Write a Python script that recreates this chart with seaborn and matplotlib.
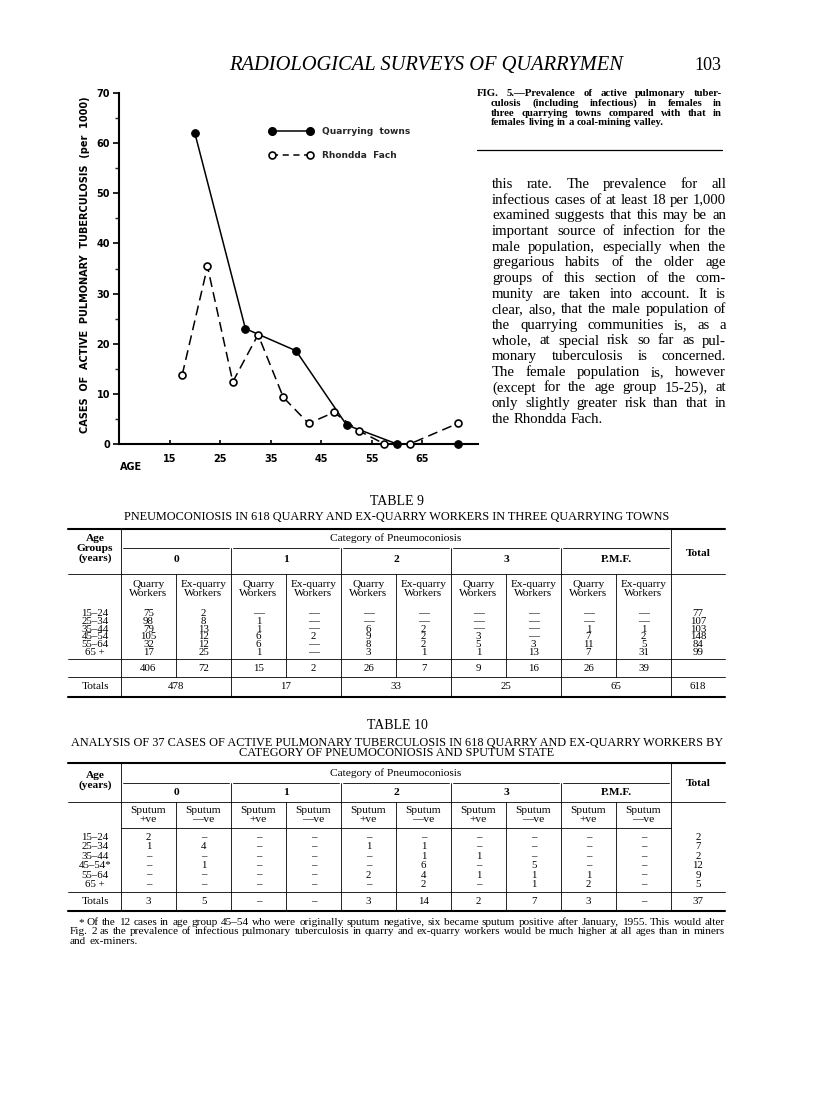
import matplotlib
matplotlib.use("Agg")
import matplotlib.pyplot as plt
import seaborn as sns
from matplotlib.lines import Line2D
from matplotlib.transforms import Affine2D

sns.set_theme(style="white")
plt.rcParams["font.family"] = ["DejaVu Sans"]
SERIF = "Liberation Serif"

# Fig. 5 data: cases of active pulmonary tuberculosis per 1000 females
quarry_age = [20, 30, 40, 50, 60, 72]
quarry_rate = [62.0, 23.0, 18.6, 3.8, 0.0, 0.0]
rhondda_age = [17.5, 22.5, 27.5, 32.5, 37.5, 42.5, 47.5, 52.5, 57.5, 62.5, 72]
rhondda_rate = [13.8, 35.4, 12.4, 21.8, 9.3, 4.1, 6.3, 2.6, 0.0, 0.0, 4.1]
x_ticks = [15, 25, 35, 45, 55, 65]
y_ticks = [0, 10, 20, 30, 40, 50, 60, 70]

# Table 9
t9_ages = ["15–24", "25–34", "35–44", "45–54", "55–64", "65 +"]
t9_rows = [
    [75, 2, None, None, None, None, None, None, None, None, 77],
    [98, 8, 1, None, None, None, None, None, None, None, 107],
    [79, 13, 1, None, 6, 2, None, None, 1, 1, 103],
    [105, 12, 6, 2, 9, 2, 3, None, 7, 2, 148],
    [32, 12, 6, None, 8, 2, 5, 3, 11, 5, 84],
    [17, 25, 1, None, 3, 1, 1, 13, 7, 31, 99],
]
t9_colsum = [406, 72, 15, 2, 26, 7, 9, 16, 26, 39]
t9_grptot = [478, 17, 33, 25, 65]
t9_total = 618

# Table 10
t10_ages = ["15–24", "25–34", "35–44", "45–54*", "55–64", "65 +"]
t10_rows = [
    [2, None, None, None, None, None, None, None, None, None, 2],
    [1, 4, None, None, 1, 1, None, None, None, None, 7],
    [None, None, None, None, None, 1, 1, None, None, None, 2],
    [None, 1, None, None, None, 6, None, 5, None, None, 12],
    [None, None, None, None, 2, 4, 1, 1, 1, None, 9],
    [None, None, None, None, None, 2, None, 1, 2, None, 5],
]
t10_totals = [3, 5, None, None, 3, 14, 2, 7, 3, None, 37]

groups = ["0", "1", "2", "3", "P.M.F."]

caption = ["FIG. 5.—Prevalence of active pulmonary tuber-",
           "culosis (including infectious) in females in",
           "three quarrying towns compared with that in",
           "females living in a coal-mining valley."]
body = ["this rate.  The prevalence for all",
        "infectious cases of at least 18 per 1,000",
        "examined suggests that this may be an",
        "important source of infection for the",
        "male population, especially when the",
        "gregarious habits of the older age",
        "groups of this section of the com-",
        "munity are taken into account.  It is",
        "clear, also, that the male population of",
        "the quarrying communities is, as a",
        "whole, at special risk so far as pul-",
        "monary tuberculosis is concerned.",
        "The female population is, however",
        "(except for the age group 15-25), at",
        "only slightly greater risk than that in",
        "the Rhondda Fach."]
footnote = ["* Of the 12 cases in age group 45–54 who were originally sputum negative, six became sputum positive after January, 1955.  This would alter",
            "Fig. 2 as the prevalence of infectious pulmonary tuberculosis in quarry and ex-quarry workers would be much higher at all ages than in miners",
            "and ex-miners."]

fig = plt.figure(figsize=(8.16, 11.01), dpi=100)
fig.patch.set_facecolor("white")
page = Affine2D().scale(1 / 816, -1 / 1101).translate(0, 1) + fig.transFigure
renderer = fig.canvas.get_renderer()


def txt(x, y, s, size=8.2, ha="center", va="baseline", family=SERIF, **kw):
    return fig.text(x, y, s, transform=page, fontsize=size, ha=ha, va=va,
                    family=family, color="black", **kw)


def hline(x0, x1, y, lw=0.6):
    fig.add_artist(Line2D([x0, x1], [y, y], transform=page, color="black", lw=lw))


def vline(x, y0, y1, lw=0.6):
    fig.add_artist(Line2D([x, x], [y0, y1], transform=page, color="black", lw=lw))


def width_of(s, size, weight):
    t = txt(0, 0, s, size=size, ha="left", weight=weight)
    w = t.get_window_extent(renderer).width
    t.remove()
    return w


def justify(lines, x0, x1, y0, dy, weight="normal", indents=None, fill=0.99):
    # pick a font size so the widest justified line just fills the measure
    indents = indents or [0] * len(lines)
    ratio = min((x1 - x0 - indents[i]) / width_of(lines[i], 10, weight)
                for i in range(len(lines) - 1))
    size = 10 * ratio * fill
    for i, line in enumerate(lines):
        left = x0 + indents[i]
        words = line.split()
        arts = [txt(left, y0 + i * dy, w, size=size, ha="left", weight=weight) for w in words]
        widths = [a.get_window_extent(renderer).width for a in arts]
        if i == len(lines) - 1:
            gap = width_of("a a", size, weight) - width_of("aa", size, weight)
        else:
            gap = (x1 - left - sum(widths)) / (len(words) - 1)
        x = left
        for a, w in zip(arts, widths):
            a.set_position((x, y0 + i * dy))
            x += w + gap


# page header
txt(426, 70, "RADIOLOGICAL SURVEYS OF QUARRYMEN", size=14.8, style="italic")
txt(721, 70, "103", size=13, ha="right")

# chart
ax = fig.add_axes([119 / 816, 1 - 444 / 1101, 359 / 816, 351 / 1101])
ax.set_facecolor("none")
sns.lineplot(x=quarry_age, y=quarry_rate, ax=ax, color="black", lw=1.1,
             marker="o", markersize=5.5, markerfacecolor="black",
             markeredgecolor="black", clip_on=False, zorder=3)
sns.lineplot(x=rhondda_age, y=rhondda_rate, ax=ax, color="black", lw=1.1,
             linestyle=(0, (6.5, 3.5)), marker="o", markersize=5,
             markerfacecolor="white", markeredgecolor="black",
             markeredgewidth=1.2, clip_on=False, zorder=4)
ax.set_xlim(5, 76)
ax.set_ylim(0, 70)
ax.set_xticks(x_ticks)
ax.set_yticks(y_ticks)
ax.set_yticks([v + 5 for v in y_ticks[:-1]], minor=True)
sns.despine(ax=ax)
for s in ["left", "bottom"]:
    ax.spines[s].set_linewidth(1.5)
    ax.spines[s].set_color("black")
ax.tick_params(axis="y", which="major", left=True, direction="out", length=4,
               width=1.2, pad=2.5, labelsize=7, colors="black")
ax.tick_params(axis="y", which="minor", left=True, direction="out", length=3, width=1)
ax.tick_params(axis="x", bottom=True, direction="in", length=3, width=1.2,
               pad=7, labelsize=7, colors="black")
for lbl in ax.get_xticklabels() + ax.get_yticklabels():
    lbl.set_fontweight("bold")
ax.grid(False)
ax.set_xlabel("")
ax.set_ylabel("")

handles = [Line2D([], [], color="black", lw=1.1, marker="o", ms=5.5, mfc="black", mec="black"),
           Line2D([], [], color="black", lw=1.1, ls=(0, (4, 3)), marker="o", ms=5,
                  mfc="white", mec="black", mew=1.2)]
ax.legend(handles, ["Quarrying  towns", "Rhondda  Fach"], loc="upper left",
          bbox_to_anchor=(0.418, 0.903), frameon=False, numpoints=2,
          handlelength=4.8, handletextpad=1.1, labelspacing=1.7, borderpad=0,
          borderaxespad=0, prop={"weight": "bold", "size": 6.5})

txt(85, 265, "CASES  OF  ACTIVE  PULMONARY  TUBERCULOSIS  (per  1000)", size=7,
    family="DejaVu Sans", weight="bold", rotation=90, va="center")
txt(120, 470, "AGE", size=7, ha="left", family="DejaVu Sans", weight="bold")

# caption and body text
justify(caption, 477, 722, 96.5, 9.6, weight="bold", indents=[0, 14, 14, 14], fill=0.9)
hline(477, 722, 150, lw=0.9)
justify(body, 492, 726, 188, 15.65)

# tables
L, R = 68, 725
edges = [121 + 55 * k for k in range(11)]
centers = [e + 27.5 for e in edges[:10]]
gcent = [edges[2 * g] + 55 for g in range(5)]
lab_x, tot_x = 95, 698
NUM = 7.8


def cell(v, dash):
    return dash if v is None else str(v)


# Table 9
txt(397, 505, "TABLE 9", size=10)
txt(397, 520, "PNEUMOCONIOSIS IN 618 QUARRY AND EX-QUARRY WORKERS IN THREE QUARRYING TOWNS", size=8.8)
hline(L, R, 529, lw=1.5)
for s, y in zip(["Age", "Groups", "(years)"], [541, 551, 561]):
    txt(lab_x, y, s, weight="bold")
txt(396, 541, "Category of Pneumoconiosis")
for g in range(5):
    hline(edges[2 * g] + 2, edges[2 * g + 2] - 2, 548)
    txt(gcent[g], 562, groups[g], weight="bold")
txt(tot_x, 556, "Total", weight="bold")
hline(L, R, 574)
for k in range(10):
    txt(centers[k], 587, "Quarry" if k % 2 == 0 else "Ex-quarry")
    txt(centers[k], 596, "Workers")
for i, row in enumerate(t9_rows):
    y = 616 + 7.8 * i
    txt(lab_x, y, t9_ages[i], size=NUM)
    for k in range(10):
        txt(centers[k], y, cell(row[k], "—"), size=NUM)
    txt(tot_x, y, str(row[10]), size=NUM)
hline(L, R, 659)
for k in range(10):
    txt(centers[k], 671, str(t9_colsum[k]), size=NUM)
hline(L, R, 677)
txt(lab_x, 689, "Totals")
for g in range(5):
    txt(gcent[g], 689, str(t9_grptot[g]), size=NUM)
txt(tot_x, 689, str(t9_total), size=NUM)
hline(L, R, 697, lw=1.5)
vline(edges[0], 529, 697)
vline(edges[10], 529, 697)
for e in edges[2:10:2]:
    vline(e, 548, 697)
for e in edges[1:10:2]:
    vline(e, 574, 677)

# Table 10
txt(397, 729, "TABLE 10", size=10)
txt(397, 746, "ANALYSIS OF 37 CASES OF ACTIVE PULMONARY TUBERCULOSIS IN 618 QUARRY AND EX-QUARRY WORKERS BY", size=8.8)
txt(397, 756, "CATEGORY OF PNEUMOCONIOSIS AND SPUTUM STATE", size=8.8)
hline(L, R, 763, lw=1.5)
txt(lab_x, 778, "Age", weight="bold")
txt(lab_x, 788, "(years)", weight="bold")
txt(396, 776, "Category of Pneumoconiosis")
for g in range(5):
    hline(edges[2 * g] + 2, edges[2 * g + 2] - 2, 783)
    txt(gcent[g], 795, groups[g], weight="bold")
txt(tot_x, 786, "Total", weight="bold")
hline(L, R, 802)
for k in range(10):
    txt(centers[k], 813, "Sputum")
    txt(centers[k], 822, "+ve" if k % 2 == 0 else "—ve")
hline(edges[0], edges[10], 828)
for i, row in enumerate(t10_rows):
    y = 840 + 9.4 * i
    txt(lab_x, y, t10_ages[i], size=NUM)
    for k in range(10):
        txt(centers[k], y, cell(row[k], "–"), size=NUM)
    txt(tot_x, y, str(row[10]), size=NUM)
hline(L, R, 892)
txt(lab_x, 904, "Totals")
for k in range(10):
    txt(centers[k], 904, cell(t10_totals[k], "–"), size=NUM)
txt(tot_x, 904, str(t10_totals[10]), size=NUM)
hline(L, R, 911, lw=1.5)
vline(edges[0], 763, 911)
vline(edges[10], 763, 911)
for e in edges[2:10:2]:
    vline(e, 783, 911)
for e in edges[1:10:2]:
    vline(e, 802, 911)

justify(footnote, 70, 725, 925, 9.5, indents=[8, 0, 0])

fig.savefig("out.png", dpi=100, facecolor="white")
